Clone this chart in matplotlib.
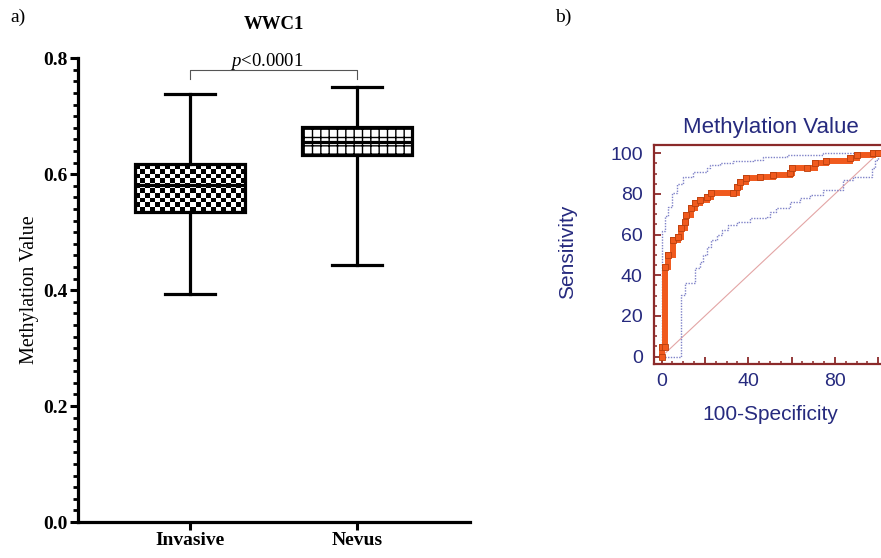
from __future__ import annotations

import matplotlib
import numpy as np

matplotlib.use("Agg", force=True)

import matplotlib.pyplot as plt
from matplotlib.ticker import FuncFormatter, MultipleLocator

# box plot summary (methylation value of WWC1)
GROUPS = ["Invasive", "Nevus"]
WHISKER_LOW = [0.394, 0.444]
Q1 = [0.535, 0.633]
MEDIAN = [0.582, 0.656]
Q3 = [0.617, 0.681]
WHISKER_HIGH = [0.738, 0.751]
P_TEXT = "<0.0001"

# ROC curve (100-specificity, sensitivity)
ROC_FPR = [0, 0, 1.5, 1.5, 3.1, 5.4, 7.7, 9.2, 10.8, 11.5, 13.8, 15.4, 17.7, 20.8, 23, 33,
           34.6, 36.2, 39.2, 45.4, 51.5, 59.2, 60, 67, 70.8, 76, 86.9, 90, 97.7, 100]
ROC_TPR = [0, 4.9, 4.9, 44.3, 50, 57.4, 59, 63.1, 66.4, 69.7, 73, 75.4, 77, 78.7, 80.3, 80.3,
           83.6, 86, 87.7, 88.2, 89.3, 90.2, 92.6, 92.6, 95, 96.4, 97.5, 99.2, 100, 100]
UPPER_FPR = [0, 0, 1.5, 3, 4.6, 6.9, 10, 14.6, 20.8, 22.3, 27, 33, 36.2, 42.3, 47, 57.7, 74.6, 99.2, 100]
UPPER_TPR = [0, 62, 69, 73.8, 80.3, 85, 88.5, 91, 92.6, 94.3, 95, 96, 96.4, 96.7, 98.4, 99.2, 100, 100, 100]
LOWER_FPR = [0, 9.2, 9.2, 10.8, 15.4, 17.7, 19.2, 20.8, 23, 25.4, 27.7, 30.8, 34.6, 40.8,
             48.5, 50, 53, 59.2, 63.8, 68.5, 74.6, 80.8, 83.8, 88.5, 94.6, 96.9, 98.5, 100]
LOWER_TPR = [0, 0, 30.3, 36, 43.4, 46.7, 50, 54, 57.4, 59.8, 62.3, 64.8, 66.4, 68,
             68.9, 71.3, 73, 76.2, 77.9, 79.5, 82, 82, 86.9, 88.5, 88.5, 92.6, 96.7, 100]

NAVY = "#262a7e"
FRAME = "#8b2a2a"
ORANGE = "#f05a1e"
CI_BLUE = "#7f82c8"

plt.rcParams["mathtext.fontset"] = "custom"
plt.rcParams["mathtext.it"] = "Liberation Serif:italic"
plt.rcParams["mathtext.rm"] = "Liberation Serif"
plt.rcParams["hatch.linewidth"] = 1.0


def plot_box(fig):
    ax = fig.add_axes([0.0885, 0.0645, 0.445, 0.831])
    serif = "Liberation Serif"
    pos = [1, 2]
    width = 0.66
    stats = [dict(label=g, whislo=lo, q1=a, med=m, q3=b, whishi=hi)
             for g, lo, a, m, b, hi in zip(GROUPS, WHISKER_LOW, Q1, MEDIAN, Q3, WHISKER_HIGH)]
    art = ax.bxp(stats, positions=pos, widths=width, capwidths=0.3, patch_artist=True,
                 showfliers=False,
                 boxprops=dict(facecolor="white", edgecolor="black", linewidth=2.3),
                 whiskerprops=dict(color="black", linewidth=2.3),
                 capprops=dict(color="black", linewidth=2.3),
                 medianprops=dict(color="black", linewidth=2.3))

    # Invasive: checkerboard fill, Nevus: grid hatch
    art["boxes"][0].set_facecolor("none")
    checker = np.add.outer(np.arange(10), np.arange(22)) % 2
    ax.imshow(checker, cmap="gray", interpolation="nearest", aspect="auto", zorder=1.5,
              extent=[pos[0] - width / 2, pos[0] + width / 2, Q1[0], Q3[0]])
    art["boxes"][1].set_hatch("++")

    ax.set_xlim(0.329, 2.677)
    ax.set_ylim(0, 0.8)
    ax.spines[["top", "right"]].set_visible(False)
    ax.spines[["left", "bottom"]].set_linewidth(2.3)
    ax.yaxis.set_major_locator(MultipleLocator(0.2))
    ax.yaxis.set_minor_locator(MultipleLocator(0.02))
    ax.yaxis.set_major_formatter(FuncFormatter(lambda v, _: f"{v:.1f}"))
    ax.tick_params(axis="y", which="major", length=6, width=2.2, pad=1.5)
    ax.tick_params(axis="y", which="minor", length=3.5, width=2.0)
    ax.tick_params(axis="x", length=5.5, width=2.2, pad=2)
    ax.set_xticks(pos, GROUPS)
    for lab in ax.get_xticklabels() + ax.get_yticklabels():
        lab.set_fontfamily(serif)
        lab.set_fontweight("bold")
        lab.set_fontsize(14)

    # significance bracket
    ax.plot([pos[0], pos[0], pos[1], pos[1]], [0.764, 0.78, 0.78, 0.764], color="#555555",
            linewidth=0.8, clip_on=False)
    ax.text(1.46, 0.786, r"$\mathit{p}$" + P_TEXT, ha="center", va="baseline", fontsize=13.5,
            family=serif)
    ax.set_title("WWC1", family=serif, fontweight="bold", fontsize=13.5, pad=21)
    fig.text(30 / 881, 1 - 290 / 558, "Methylation Value", rotation=90, ha="center",
             va="center", family=serif, fontsize=14.5)
    fig.text(18 / 881, 1 - 17 / 558, "a)", ha="center", va="center", family=serif, fontsize=14)


def plot_roc(fig):
    ax = fig.add_axes([0.7423, 0.3477, 0.2644, 0.3925])
    sans = "Liberation Sans"
    ax.plot([0, 100], [0, 100], color="#e3a5a5", linewidth=0.8, zorder=1)
    ax.plot(UPPER_FPR, UPPER_TPR, drawstyle="steps-post", color=CI_BLUE, linestyle=(0, (1, 1)),
            linewidth=1.0, zorder=2)
    ax.plot(LOWER_FPR, LOWER_TPR, drawstyle="steps-post", color=CI_BLUE, linestyle=(0, (1, 1)),
            linewidth=1.0, zorder=2)
    ax.plot(ROC_FPR, ROC_TPR, drawstyle="steps-post", color=ORANGE, linewidth=4.3,
            solid_joinstyle="miter", solid_capstyle="projecting", zorder=3)
    ax.plot(ROC_FPR, ROC_TPR, linestyle="none", marker="s", markersize=5, color=ORANGE,
            markeredgecolor="#b8400f", markeredgewidth=0.6, zorder=4)

    ax.set_xlim(-3.5, 104)
    ax.set_ylim(-3.6, 104.1)
    for s in ax.spines.values():
        s.set_color(FRAME)
        s.set_linewidth(1.6)
    ax.xaxis.set_major_locator(MultipleLocator(20))
    ax.xaxis.set_minor_locator(MultipleLocator(5))
    ax.yaxis.set_major_locator(MultipleLocator(20))
    ax.yaxis.set_minor_locator(MultipleLocator(5))
    ax.xaxis.set_major_formatter(FuncFormatter(lambda v, _: f"{v:.0f}" if v % 40 == 0 else ""))
    ax.yaxis.set_major_formatter(FuncFormatter(lambda v, _: f"{v:.0f}"))
    ax.tick_params(which="both", direction="in", color=FRAME, labelcolor=NAVY, labelsize=14)
    ax.tick_params(which="major", length=5, width=1.3)
    ax.tick_params(which="minor", length=2.5, width=1.1)
    ax.tick_params(axis="x", pad=6.5)
    ax.tick_params(axis="y", pad=8)
    for lab in ax.get_xticklabels() + ax.get_yticklabels():
        lab.set_fontfamily(sans)
    ax.set_title("Methylation Value", family=sans, color=NAVY, fontsize=16, pad=8.5)
    fig.text(568 / 881, 1 - 252 / 558, "Sensitivity", rotation=90, ha="center", va="center",
             family=sans, color=NAVY, fontsize=15)
    fig.text(770 / 881, 1 - 415 / 558, "100-Specificity", ha="center", va="center",
             family=sans, color=NAVY, fontsize=15)
    fig.text(563 / 881, 1 - 17 / 558, "b)", ha="center", va="center",
             family="Liberation Serif", fontsize=14)


fig = plt.figure(figsize=(8.81, 5.58), dpi=100)
plot_box(fig)
plot_roc(fig)
fig.savefig("out.png", dpi=100)
plt.close(fig)
